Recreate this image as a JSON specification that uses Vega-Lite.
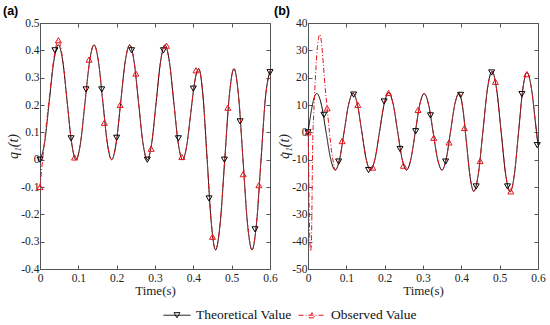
{
  "$schema": "https://vega.github.io/schema/vega-lite/v6.json",
  "background": "white",
  "padding": {"left": 2, "top": 4, "right": 5, "bottom": 0},
  "bounds": "flush",
  "spacing": 38,
  "datasets": {
    "curveA": [
      {"s":"Theoretical Value","t":0,"v":0},{"s":"Theoretical Value","t":0.012,"v":0.0615},{"s":"Theoretical Value","t":0.024,"v":0.21},{"s":"Theoretical Value","t":0.036,"v":0.3585},
      {"s":"Theoretical Value","t":0.048,"v":0.42},{"s":"Theoretical Value","t":0.0595,"v":0.3585},{"s":"Theoretical Value","t":0.071,"v":0.21},{"s":"Theoretical Value","t":0.0825,"v":0.0615},
      {"s":"Theoretical Value","t":0.094,"v":0},{"s":"Theoretical Value","t":0.10575,"v":0.0615},{"s":"Theoretical Value","t":0.1175,"v":0.21},{"s":"Theoretical Value","t":0.12925,"v":0.3585},
      {"s":"Theoretical Value","t":0.141,"v":0.42},{"s":"Theoretical Value","t":0.1525,"v":0.3585},{"s":"Theoretical Value","t":0.164,"v":0.21},{"s":"Theoretical Value","t":0.1755,"v":0.0615},
      {"s":"Theoretical Value","t":0.187,"v":0},{"s":"Theoretical Value","t":0.19875,"v":0.0615},{"s":"Theoretical Value","t":0.2105,"v":0.21},{"s":"Theoretical Value","t":0.22225,"v":0.3585},
      {"s":"Theoretical Value","t":0.234,"v":0.42},{"s":"Theoretical Value","t":0.2455,"v":0.3585},{"s":"Theoretical Value","t":0.257,"v":0.21},{"s":"Theoretical Value","t":0.2685,"v":0.0615},
      {"s":"Theoretical Value","t":0.28,"v":0},{"s":"Theoretical Value","t":0.2915,"v":0.0615},{"s":"Theoretical Value","t":0.303,"v":0.21},{"s":"Theoretical Value","t":0.3145,"v":0.3585},
      {"s":"Theoretical Value","t":0.326,"v":0.42},{"s":"Theoretical Value","t":0.3375,"v":0.3585},{"s":"Theoretical Value","t":0.349,"v":0.21},{"s":"Theoretical Value","t":0.3605,"v":0.0615},
      {"s":"Theoretical Value","t":0.372,"v":0},{"s":"Theoretical Value","t":0.3825,"v":0.0488},{"s":"Theoretical Value","t":0.393,"v":0.1665},{"s":"Theoretical Value","t":0.4035,"v":0.2842},
      {"s":"Theoretical Value","t":0.414,"v":0.333},{"s":"Theoretical Value","t":0.425,"v":0.236},{"s":"Theoretical Value","t":0.436,"v":0.0015},{"s":"Theoretical Value","t":0.447,"v":-0.233},
      {"s":"Theoretical Value","t":0.458,"v":-0.33},{"s":"Theoretical Value","t":0.47,"v":-0.233},{"s":"Theoretical Value","t":0.482,"v":0.0015},{"s":"Theoretical Value","t":0.494,"v":0.236},
      {"s":"Theoretical Value","t":0.506,"v":0.333},{"s":"Theoretical Value","t":0.51775,"v":0.236},{"s":"Theoretical Value","t":0.5295,"v":0.0015},{"s":"Theoretical Value","t":0.54125,"v":-0.233},
      {"s":"Theoretical Value","t":0.553,"v":-0.33},{"s":"Theoretical Value","t":0.56475,"v":-0.234},{"s":"Theoretical Value","t":0.5765,"v":-0.0025},{"s":"Theoretical Value","t":0.58825,"v":0.229},{"s":"Theoretical Value","t":0.6,"v":0.325},
      {"s":"Observed Value","t":0,"v":-0.1},{"s":"Observed Value","t":0.004,"v":-0.04},{"s":"Observed Value","t":0.012,"v":0.07},{"s":"Observed Value","t":0.024,"v":0.225},{"s":"Observed Value","t":0.036,"v":0.37},
      {"s":"Observed Value","t":0.048,"v":0.437},{"s":"Observed Value","t":0.0595,"v":0.365},{"s":"Observed Value","t":0.071,"v":0.21},{"s":"Observed Value","t":0.0825,"v":0.0615},
      {"s":"Observed Value","t":0.094,"v":0},{"s":"Observed Value","t":0.10575,"v":0.0615},{"s":"Observed Value","t":0.1175,"v":0.21},{"s":"Observed Value","t":0.12925,"v":0.3585},
      {"s":"Observed Value","t":0.141,"v":0.42},{"s":"Observed Value","t":0.1525,"v":0.3585},{"s":"Observed Value","t":0.164,"v":0.21},{"s":"Observed Value","t":0.1755,"v":0.0615},
      {"s":"Observed Value","t":0.187,"v":0},{"s":"Observed Value","t":0.19875,"v":0.0615},{"s":"Observed Value","t":0.2105,"v":0.21},{"s":"Observed Value","t":0.22225,"v":0.3585},
      {"s":"Observed Value","t":0.234,"v":0.42},{"s":"Observed Value","t":0.2455,"v":0.3585},{"s":"Observed Value","t":0.257,"v":0.21},{"s":"Observed Value","t":0.2685,"v":0.0615},
      {"s":"Observed Value","t":0.28,"v":0},{"s":"Observed Value","t":0.2915,"v":0.0615},{"s":"Observed Value","t":0.303,"v":0.21},{"s":"Observed Value","t":0.3145,"v":0.3585},
      {"s":"Observed Value","t":0.326,"v":0.42},{"s":"Observed Value","t":0.3375,"v":0.3585},{"s":"Observed Value","t":0.349,"v":0.21},{"s":"Observed Value","t":0.3605,"v":0.0615},
      {"s":"Observed Value","t":0.372,"v":0},{"s":"Observed Value","t":0.3825,"v":0.0488},{"s":"Observed Value","t":0.393,"v":0.1665},{"s":"Observed Value","t":0.4035,"v":0.2842},
      {"s":"Observed Value","t":0.414,"v":0.333},{"s":"Observed Value","t":0.425,"v":0.236},{"s":"Observed Value","t":0.436,"v":0.0015},{"s":"Observed Value","t":0.447,"v":-0.233},
      {"s":"Observed Value","t":0.458,"v":-0.33},{"s":"Observed Value","t":0.47,"v":-0.233},{"s":"Observed Value","t":0.482,"v":0.0015},{"s":"Observed Value","t":0.494,"v":0.236},
      {"s":"Observed Value","t":0.506,"v":0.333},{"s":"Observed Value","t":0.51775,"v":0.236},{"s":"Observed Value","t":0.5295,"v":0.0015},{"s":"Observed Value","t":0.54125,"v":-0.233},
      {"s":"Observed Value","t":0.553,"v":-0.33},{"s":"Observed Value","t":0.56475,"v":-0.234},{"s":"Observed Value","t":0.5765,"v":-0.0025},{"s":"Observed Value","t":0.58825,"v":0.229},{"s":"Observed Value","t":0.6,"v":0.325}
    ],
    "markA": [
      {"s":"Theoretical Value","t":0,"v":0},{"s":"Theoretical Value","t":0.039,"v":0.4},{"s":"Theoretical Value","t":0.081,"v":0.078},{"s":"Theoretical Value","t":0.12,"v":0.257},
      {"s":"Theoretical Value","t":0.161,"v":0.257},{"s":"Theoretical Value","t":0.2,"v":0.08},{"s":"Theoretical Value","t":0.239,"v":0.4},{"s":"Theoretical Value","t":0.28,"v":0},
      {"s":"Theoretical Value","t":0.322,"v":0.4},{"s":"Theoretical Value","t":0.361,"v":0.078},{"s":"Theoretical Value","t":0.4,"v":0.26},{"s":"Theoretical Value","t":0.441,"v":-0.142},
      {"s":"Theoretical Value","t":0.481,"v":0},{"s":"Theoretical Value","t":0.522,"v":0.14},{"s":"Theoretical Value","t":0.561,"v":-0.255},{"s":"Theoretical Value","t":0.6,"v":0.32},
      {"s":"Observed Value","t":0,"v":-0.1},{"s":"Observed Value","t":0.048,"v":0.437},{"s":"Observed Value","t":0.09,"v":0.008},{"s":"Observed Value","t":0.128,"v":0.366},
      {"s":"Observed Value","t":0.168,"v":0.135},{"s":"Observed Value","t":0.209,"v":0.2},{"s":"Observed Value","t":0.25,"v":0.315},{"s":"Observed Value","t":0.29,"v":0.04},
      {"s":"Observed Value","t":0.33,"v":0.417},{"s":"Observed Value","t":0.37,"v":0.01},{"s":"Observed Value","t":0.407,"v":0.327},{"s":"Observed Value","t":0.45,"v":-0.282},
      {"s":"Observed Value","t":0.49,"v":0.19},{"s":"Observed Value","t":0.53,"v":-0.053},{"s":"Observed Value","t":0.571,"v":-0.093}
    ],
    "curveB": [
      {"s":"Theoretical Value","t":0,"v":0},{"s":"Theoretical Value","t":0.00575,"v":5.43},{"s":"Theoretical Value","t":0.0115,"v":10.04},{"s":"Theoretical Value","t":0.01725,"v":13.12},
      {"s":"Theoretical Value","t":0.023,"v":14.2},{"s":"Theoretical Value","t":0.035,"v":10.1},{"s":"Theoretical Value","t":0.047,"v":0.2},{"s":"Theoretical Value","t":0.059,"v":-9.7},
      {"s":"Theoretical Value","t":0.071,"v":-13.8},{"s":"Theoretical Value","t":0.0826,"v":-9.69},{"s":"Theoretical Value","t":0.0943,"v":0.25},{"s":"Theoretical Value","t":0.1059,"v":10.19},
      {"s":"Theoretical Value","t":0.1175,"v":14.3},{"s":"Theoretical Value","t":0.1289,"v":10.19},{"s":"Theoretical Value","t":0.1403,"v":0.25},{"s":"Theoretical Value","t":0.1516,"v":-9.69},
      {"s":"Theoretical Value","t":0.163,"v":-13.8},{"s":"Theoretical Value","t":0.1749,"v":-9.66},{"s":"Theoretical Value","t":0.1868,"v":0.35},{"s":"Theoretical Value","t":0.1986,"v":10.36},
      {"s":"Theoretical Value","t":0.2105,"v":14.5},{"s":"Theoretical Value","t":0.2221,"v":10.36},{"s":"Theoretical Value","t":0.2338,"v":0.35},{"s":"Theoretical Value","t":0.2454,"v":-9.66},
      {"s":"Theoretical Value","t":0.257,"v":-13.8},{"s":"Theoretical Value","t":0.2685,"v":-9.7},{"s":"Theoretical Value","t":0.28,"v":0.2},{"s":"Theoretical Value","t":0.2915,"v":10.1},
      {"s":"Theoretical Value","t":0.303,"v":14.2},{"s":"Theoretical Value","t":0.3146,"v":10.1},{"s":"Theoretical Value","t":0.3263,"v":0.2},{"s":"Theoretical Value","t":0.3379,"v":-9.7},
      {"s":"Theoretical Value","t":0.3495,"v":-13.8},{"s":"Theoretical Value","t":0.3606,"v":-9.69},{"s":"Theoretical Value","t":0.3718,"v":0.25},{"s":"Theoretical Value","t":0.3829,"v":10.19},
      {"s":"Theoretical Value","t":0.394,"v":14.3},{"s":"Theoretical Value","t":0.4036,"v":9.04},{"s":"Theoretical Value","t":0.4133,"v":-3.65},{"s":"Theoretical Value","t":0.4229,"v":-16.34},
      {"s":"Theoretical Value","t":0.4325,"v":-21.6},{"s":"Theoretical Value","t":0.4444,"v":-15.17},{"s":"Theoretical Value","t":0.4563,"v":0.35},{"s":"Theoretical Value","t":0.4681,"v":15.87},
      {"s":"Theoretical Value","t":0.48,"v":22.3},{"s":"Theoretical Value","t":0.4919,"v":15.84},{"s":"Theoretical Value","t":0.5038,"v":0.25},{"s":"Theoretical Value","t":0.5156,"v":-15.34},
      {"s":"Theoretical Value","t":0.5275,"v":-21.8},{"s":"Theoretical Value","t":0.5384,"v":-15.4},{"s":"Theoretical Value","t":0.5493,"v":0.05},{"s":"Theoretical Value","t":0.5601,"v":15.5},
      {"s":"Theoretical Value","t":0.571,"v":21.9},{"s":"Theoretical Value","t":0.583,"v":16},{"s":"Theoretical Value","t":0.593,"v":4},{"s":"Theoretical Value","t":0.6,"v":-4.7},
      {"s":"Observed Value","t":0,"v":0},{"s":"Observed Value","t":0.0015,"v":-10},{"s":"Observed Value","t":0.003,"v":-27},{"s":"Observed Value","t":0.005,"v":-40},
      {"s":"Observed Value","t":0.007,"v":-43.5},{"s":"Observed Value","t":0.009,"v":-40},{"s":"Observed Value","t":0.0105,"v":-25},{"s":"Observed Value","t":0.012,"v":-6},
      {"s":"Observed Value","t":0.015,"v":7},{"s":"Observed Value","t":0.019,"v":19},{"s":"Observed Value","t":0.023,"v":28.5},{"s":"Observed Value","t":0.027,"v":34},
      {"s":"Observed Value","t":0.031,"v":35.8},{"s":"Observed Value","t":0.035,"v":33},{"s":"Observed Value","t":0.04,"v":25},{"s":"Observed Value","t":0.045,"v":16},
      {"s":"Observed Value","t":0.05,"v":8.8},{"s":"Observed Value","t":0.056,"v":0},{"s":"Observed Value","t":0.062,"v":-7.5},{"s":"Observed Value","t":0.067,"v":-11.5},
      {"s":"Observed Value","t":0.071,"v":-13.8},{"s":"Observed Value","t":0.0826,"v":-9.69},{"s":"Observed Value","t":0.0943,"v":0.25},{"s":"Observed Value","t":0.1059,"v":10.19},
      {"s":"Observed Value","t":0.1175,"v":14.3},{"s":"Observed Value","t":0.1289,"v":10.19},{"s":"Observed Value","t":0.1403,"v":0.25},{"s":"Observed Value","t":0.1516,"v":-9.69},
      {"s":"Observed Value","t":0.163,"v":-13.8},{"s":"Observed Value","t":0.1749,"v":-9.66},{"s":"Observed Value","t":0.1868,"v":0.35},{"s":"Observed Value","t":0.1986,"v":10.36},
      {"s":"Observed Value","t":0.2105,"v":14.5},{"s":"Observed Value","t":0.2221,"v":10.36},{"s":"Observed Value","t":0.2338,"v":0.35},{"s":"Observed Value","t":0.2454,"v":-9.66},
      {"s":"Observed Value","t":0.257,"v":-13.8},{"s":"Observed Value","t":0.2685,"v":-9.7},{"s":"Observed Value","t":0.28,"v":0.2},{"s":"Observed Value","t":0.2915,"v":10.1},
      {"s":"Observed Value","t":0.303,"v":14.2},{"s":"Observed Value","t":0.3146,"v":10.1},{"s":"Observed Value","t":0.3263,"v":0.2},{"s":"Observed Value","t":0.3379,"v":-9.7},
      {"s":"Observed Value","t":0.3495,"v":-13.8},{"s":"Observed Value","t":0.3606,"v":-9.69},{"s":"Observed Value","t":0.3718,"v":0.25},{"s":"Observed Value","t":0.3829,"v":10.19},
      {"s":"Observed Value","t":0.394,"v":14.3},{"s":"Observed Value","t":0.4036,"v":9.04},{"s":"Observed Value","t":0.4133,"v":-3.65},{"s":"Observed Value","t":0.4229,"v":-16.34},
      {"s":"Observed Value","t":0.4325,"v":-21.6},{"s":"Observed Value","t":0.4444,"v":-15.17},{"s":"Observed Value","t":0.4563,"v":0.35},{"s":"Observed Value","t":0.4681,"v":15.87},
      {"s":"Observed Value","t":0.48,"v":22.3},{"s":"Observed Value","t":0.4919,"v":15.84},{"s":"Observed Value","t":0.5038,"v":0.25},{"s":"Observed Value","t":0.5156,"v":-15.34},
      {"s":"Observed Value","t":0.5275,"v":-21.8},{"s":"Observed Value","t":0.5384,"v":-15.4},{"s":"Observed Value","t":0.5493,"v":0.05},{"s":"Observed Value","t":0.5601,"v":15.5},
      {"s":"Observed Value","t":0.571,"v":21.9},{"s":"Observed Value","t":0.583,"v":16},{"s":"Observed Value","t":0.593,"v":4},{"s":"Observed Value","t":0.6,"v":-4.7}
    ],
    "markB": [
      {"s":"Theoretical Value","t":0,"v":0},{"s":"Theoretical Value","t":0.0415,"v":6.4},{"s":"Theoretical Value","t":0.08,"v":-10.7},{"s":"Theoretical Value","t":0.119,"v":13.8},
      {"s":"Theoretical Value","t":0.158,"v":-13.8},{"s":"Theoretical Value","t":0.1986,"v":11.3},{"s":"Theoretical Value","t":0.24,"v":-6.1},{"s":"Theoretical Value","t":0.281,"v":0.4},
      {"s":"Theoretical Value","t":0.3195,"v":6.2},{"s":"Theoretical Value","t":0.359,"v":-10.7},{"s":"Theoretical Value","t":0.398,"v":13.7},{"s":"Theoretical Value","t":0.4386,"v":-19.8},
      {"s":"Theoretical Value","t":0.479,"v":21.9},{"s":"Theoretical Value","t":0.5205,"v":-19.8},{"s":"Theoretical Value","t":0.558,"v":14},{"s":"Theoretical Value","t":0.598,"v":-4.7},
      {"s":"Observed Value","t":0,"v":0},{"s":"Observed Value","t":0.05,"v":8.8},{"s":"Observed Value","t":0.089,"v":-3.2},{"s":"Observed Value","t":0.13,"v":10},
      {"s":"Observed Value","t":0.169,"v":-12.9},{"s":"Observed Value","t":0.21,"v":14.4},{"s":"Observed Value","t":0.249,"v":-12.2},{"s":"Observed Value","t":0.287,"v":8.2},
      {"s":"Observed Value","t":0.328,"v":-2},{"s":"Observed Value","t":0.368,"v":-3.7},{"s":"Observed Value","t":0.408,"v":1.6},{"s":"Observed Value","t":0.449,"v":-10.5},
      {"s":"Observed Value","t":0.489,"v":18.5},{"s":"Observed Value","t":0.529,"v":-21.6},{"s":"Observed Value","t":0.571,"v":21.3}
    ]
  },
  "config": {
    "font": "Liberation Serif",
    "view": {"stroke": "#555555", "strokeWidth": 1},
    "axis": {
      "grid": false, "domain": false, "tickSize": -4, "tickColor": "#555555", "tickWidth": 1,
      "labelOverlap": false, "labelFlush": false,
      "labelFont": "Liberation Serif", "labelFontSize": 11.5, "labelColor": "#222222", "labelPadding": 5,
      "titleFont": "Liberation Serif", "titleFontSize": 13, "titleFontWeight": "normal", "titleColor": "#222222"
    },
    "axisX": {"titlePadding": 1, "labelPadding": 7},
    "axisY": {"titlePadding": 0, "titleFontSize": 14, "titleFontStyle": "italic"}
  },
  "hconcat": [
    {
      "width": 230, "height": 246,
      "title": {"text": "(a)", "anchor": "start", "frame": "group", "dx": -37, "dy": 14, "offset": 4, "baseline": "alphabetic", "font": "Liberation Sans", "fontWeight": "bold", "fontSize": 12.5, "color": "black"},
      "resolve": {"axis": {"x": "independent", "y": "independent"}},
      "layer": [
        {
          "data": {"name": "curveA"},
          "mark": {"type": "line", "strokeWidth": 1, "interpolate": "monotone"},
          "encoding": {
            "x": {"field": "t", "type": "quantitative", "scale": {"domain": [0, 0.6], "nice": false}, "axis": {"title": "Time(s)", "values": [0, 0.1, 0.2, 0.3, 0.4, 0.5, 0.6], "labelOverlap": false, "labelExpr": "datum.value == 0 ? '0' : format(datum.value, '.1f')"}},
            "y": {"field": "v", "type": "quantitative", "scale": {"domain": [-0.4, 0.5], "nice": false}, "axis": {"title": "q₁(t)", "values": [-0.4, -0.3, -0.2, -0.1, 0, 0.1, 0.2, 0.3, 0.4, 0.5], "labelOverlap": false, "labelExpr": "datum.value == 0 ? '0' : replace(format(datum.value, '.1f'), '\u2212', '-')"}},
            "color": {"field": "s", "type": "nominal", "sort": ["Theoretical Value", "Observed Value"], "scale": {"domain": ["Theoretical Value", "Observed Value"], "range": ["#000000", "#e8141c"]},
              "legend": {"orient": "none", "legendX": 123, "legendY": 278, "direction": "horizontal", "title": null, "symbolSize": 729, "symbolStrokeWidth": 1, "labelFont": "Liberation Serif", "labelFontSize": 13.5, "labelColor": "#111111", "labelOffset": 5, "columnPadding": 4,
                "encode": {"symbols": {"update": {"shape": {"signal": "datum.value === 'Theoretical Value' ? 'M-1,0H1M-0.22,-0.19H0.22L0,0.19Z' : 'M-1,0H1M-0.22,0.19H0.22L0,-0.19Z'"}, "fill": {"value": "transparent"}}}}}},
            "strokeDash": {"field": "s", "type": "nominal", "sort": ["Theoretical Value", "Observed Value"], "scale": {"domain": ["Theoretical Value", "Observed Value"], "range": [[1, 0], [5, 2, 1, 2]]},
              "legend": {"orient": "none", "legendX": 123, "legendY": 278, "direction": "horizontal", "title": null, "symbolSize": 729, "symbolStrokeWidth": 1, "labelFont": "Liberation Serif", "labelFontSize": 13.5, "labelColor": "#111111", "labelOffset": 5, "columnPadding": 4,
                "encode": {"symbols": {"update": {"shape": {"signal": "datum.value === 'Theoretical Value' ? 'M-1,0H1M-0.22,-0.19H0.22L0,0.19Z' : 'M-1,0H1M-0.22,0.19H0.22L0,-0.19Z'"}, "fill": {"value": "transparent"}}}}}}
          }
        },
        {
          "data": {"name": "markA"},
          "transform": [{"filter": "datum.s === 'Theoretical Value'"}],
          "mark": {"type": "point", "shape": "triangle-down", "size": 36, "color": "#000000", "strokeWidth": 1, "opacity": 1},
          "encoding": {"x": {"field": "t", "type": "quantitative", "axis": null}, "y": {"field": "v", "type": "quantitative", "axis": null}}
        },
        {
          "data": {"name": "markA"},
          "transform": [{"filter": "datum.s === 'Observed Value'"}],
          "mark": {"type": "point", "shape": "triangle-up", "size": 36, "color": "#e8141c", "strokeWidth": 1, "opacity": 1},
          "encoding": {"x": {"field": "t", "type": "quantitative", "axis": null}, "y": {"field": "v", "type": "quantitative", "axis": null}}
        },
        {
          "data": {"name": "markA"},
          "mark": {"type": "point", "opacity": 0},
          "encoding": {
            "x": {"field": "t", "type": "quantitative", "axis": {"orient": "top", "title": null, "labels": false, "values": [0, 0.1, 0.2, 0.3, 0.4, 0.5, 0.6]}},
            "y": {"field": "v", "type": "quantitative", "axis": {"orient": "right", "title": null, "labels": false, "values": [-0.4, -0.3, -0.2, -0.1, 0, 0.1, 0.2, 0.3, 0.4, 0.5]}}
          }
        }
      ]
    },
    {
      "width": 230, "height": 246,
      "title": {"text": "(b)", "anchor": "start", "frame": "group", "dx": -34, "dy": 14, "offset": 4, "baseline": "alphabetic", "font": "Liberation Sans", "fontWeight": "bold", "fontSize": 12.5, "color": "black"},
      "resolve": {"axis": {"x": "independent", "y": "independent"}},
      "layer": [
        {
          "data": {"name": "curveB"},
          "mark": {"type": "line", "strokeWidth": 1, "interpolate": "monotone"},
          "encoding": {
            "x": {"field": "t", "type": "quantitative", "scale": {"domain": [0, 0.6], "nice": false}, "axis": {"title": "Time(s)", "values": [0, 0.1, 0.2, 0.3, 0.4, 0.5, 0.6], "labelOverlap": false, "labelExpr": "datum.value == 0 ? '0' : format(datum.value, '.1f')"}},
            "y": {"field": "v", "type": "quantitative", "scale": {"domain": [-50, 40], "nice": false}, "axis": {"title": "q̇₁(t)", "values": [-50, -40, -30, -20, -10, 0, 10, 20, 30, 40], "labelOverlap": false, "labelExpr": "replace(format(datum.value, 'd'), '\u2212', '-')"}},
            "color": {"field": "s", "type": "nominal", "scale": {"domain": ["Theoretical Value", "Observed Value"], "range": ["#000000", "#e8141c"]}, "legend": null},
            "strokeDash": {"field": "s", "type": "nominal", "scale": {"domain": ["Theoretical Value", "Observed Value"], "range": [[1, 0], [5, 2, 1, 2]]}, "legend": null}
          }
        },
        {
          "data": {"name": "markB"},
          "transform": [{"filter": "datum.s === 'Theoretical Value'"}],
          "mark": {"type": "point", "shape": "triangle-down", "size": 36, "color": "#000000", "strokeWidth": 1, "opacity": 1},
          "encoding": {"x": {"field": "t", "type": "quantitative", "axis": null}, "y": {"field": "v", "type": "quantitative", "axis": null}}
        },
        {
          "data": {"name": "markB"},
          "transform": [{"filter": "datum.s === 'Observed Value'"}],
          "mark": {"type": "point", "shape": "triangle-up", "size": 36, "color": "#e8141c", "strokeWidth": 1, "opacity": 1},
          "encoding": {"x": {"field": "t", "type": "quantitative", "axis": null}, "y": {"field": "v", "type": "quantitative", "axis": null}}
        },
        {
          "data": {"name": "markB"},
          "mark": {"type": "point", "opacity": 0},
          "encoding": {
            "x": {"field": "t", "type": "quantitative", "axis": {"orient": "top", "title": null, "labels": false, "values": [0, 0.1, 0.2, 0.3, 0.4, 0.5, 0.6]}},
            "y": {"field": "v", "type": "quantitative", "axis": {"orient": "right", "title": null, "labels": false, "values": [-50, -40, -30, -20, -10, 0, 10, 20, 30, 40]}}
          }
        }
      ]
    }
  ]
}
